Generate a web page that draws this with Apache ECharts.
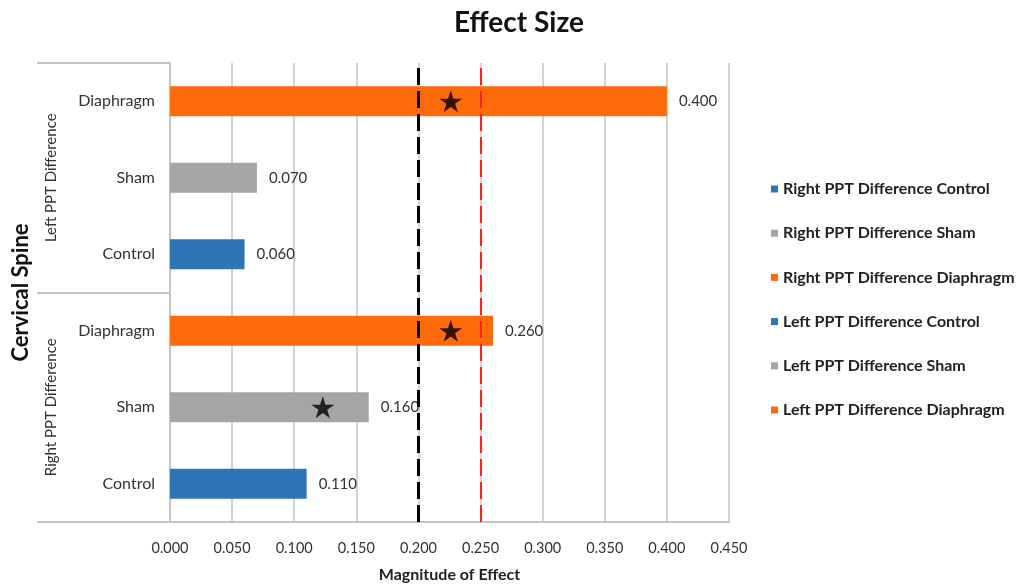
<!DOCTYPE html>
<html><head><meta charset="utf-8">
<script src="https://cdn.jsdelivr.net/npm/echarts@6/dist/echarts.min.js"></script>
<style>html,body{margin:0;padding:0;background:#fff;}#c{width:1019px;height:588px;}</style>
</head><body><div id="c"></div>
<script>
const groups = ['Right PPT Difference', 'Left PPT Difference'];
const treatments = ['Control', 'Sham', 'Diaphragm'];
const categories = [
  'Right PPT Difference Control', 'Right PPT Difference Sham', 'Right PPT Difference Diaphragm',
  'Left PPT Difference Control', 'Left PPT Difference Sham', 'Left PPT Difference Diaphragm'
];
const categoryLabels = ['Control', 'Sham', 'Diaphragm', 'Control', 'Sham', 'Diaphragm'];
const values = [0.110, 0.160, 0.260, 0.060, 0.070, 0.400];
const barColors = ['#2E75B6', '#A5A5A5', '#FF6A0A', '#2E75B6', '#A5A5A5', '#FF6A0A'];
const stars = [
  [0.123, 'Right PPT Difference Sham'],
  [0.226, 'Right PPT Difference Diaphragm'],
  [0.226, 'Left PPT Difference Diaphragm']
];
const thresholds = [0.2, 0.25];
const xTicks = { min: 0, max: 0.45, interval: 0.05 };

const FONT = 'Lato, "Open Sans", sans-serif';
const gridColor = '#C4C4C4';

const barSeries = categories.map((name, i) => ({
  name: name,
  type: 'bar',
  stack: 'all',
  yAxisIndex: 0,
  barWidth: 30,
  itemStyle: { color: barColors[i] },
  label: {
    show: true, position: 'right', distance: 12,
    color: '#333', fontSize: 15, fontFamily: FONT,
    formatter: p => Number(p.value).toFixed(3)
  },
  data: categories.map((c, j) => j === i ? values[i] : '-')
}));

const starPath = 'path://M50,0 L61.2,34.5 L97.6,34.5 L68.2,55.9 L79.4,90.5 L50,69.1 L20.6,90.5 L31.8,55.9 L2.4,34.5 L38.8,34.5 Z';

const option = {
  backgroundColor: '#fff',
  animation: false,
  title: {
    text: 'Effect Size', left: 514, top: 4, textAlign: 'center',
    textStyle: { fontFamily: FONT, fontWeight: 'bold', fontSize: 28, color: '#111' }
  },
  legend: {
    orient: 'vertical', left: 771, top: 181, padding: 0,
    itemWidth: 7, itemHeight: 7, itemGap: 28.2, icon: 'rect',
    data: categories,
    textStyle: { fontFamily: FONT, fontWeight: 'bold', fontSize: 16, color: '#222' }
  },
  grid: { left: 170, right: 290, top: 63, bottom: 65 },
  xAxis: {
    type: 'value', min: xTicks.min, max: xTicks.max, interval: xTicks.interval,
    name: 'Magnitude of Effect', nameLocation: 'middle', nameGap: 45,
    nameTextStyle: { fontFamily: FONT, fontWeight: 'bold', fontSize: 16, color: '#222' },
    axisLine: { show: true, lineStyle: { color: gridColor, width: 2 } },
    axisTick: { show: false },
    axisLabel: { color: '#333', fontSize: 14.5, fontFamily: FONT, margin: 19, formatter: v => v.toFixed(3) },
    splitLine: { show: true, lineStyle: { color: gridColor, width: 1.5 } }
  },
  yAxis: [
    {
      type: 'category', data: categories, position: 'left',
      axisLine: { show: true, lineStyle: { color: gridColor, width: 2 } },
      axisTick: { show: false },
      axisLabel: { color: '#333', fontSize: 16, fontFamily: FONT, margin: 15,
        formatter: (v, i) => categoryLabels[i] },
      splitLine: { show: false }
    },
    {
      type: 'category', data: groups, position: 'left', offset: 0,
      name: 'Cervical Spine', nameLocation: 'middle', nameGap: 138, nameRotate: 90,
      nameTextStyle: { fontFamily: FONT, fontWeight: 'bold', fontSize: 22, color: '#111' },
      axisLine: { show: false },
      axisTick: { show: true, length: 133, lineStyle: { color: gridColor, width: 2 } },
      axisLabel: { rotate: 90, margin: 111, color: '#333', fontSize: 15, fontFamily: FONT },
      splitLine: { show: false }
    }
  ],
  series: barSeries.concat([{
    name: 'stars', type: 'scatter', yAxisIndex: 0, z: 10,
    symbol: starPath, symbolSize: [23, 22],
    itemStyle: { color: '#000' },
    data: stars,
    markLine: {
      silent: true, symbol: 'none', label: { show: false },
      data: [
        { xAxis: thresholds[0], lineStyle: { color: '#000', width: 3, type: [17, 6] } },
        { xAxis: thresholds[1], lineStyle: { color: '#FF2020', width: 2, type: [17, 6] } }
      ]
    }
  }])
};

const chart = echarts.init(document.getElementById('c'), null, { renderer: 'canvas' });
chart.setOption(option);
</script>
</body></html>
